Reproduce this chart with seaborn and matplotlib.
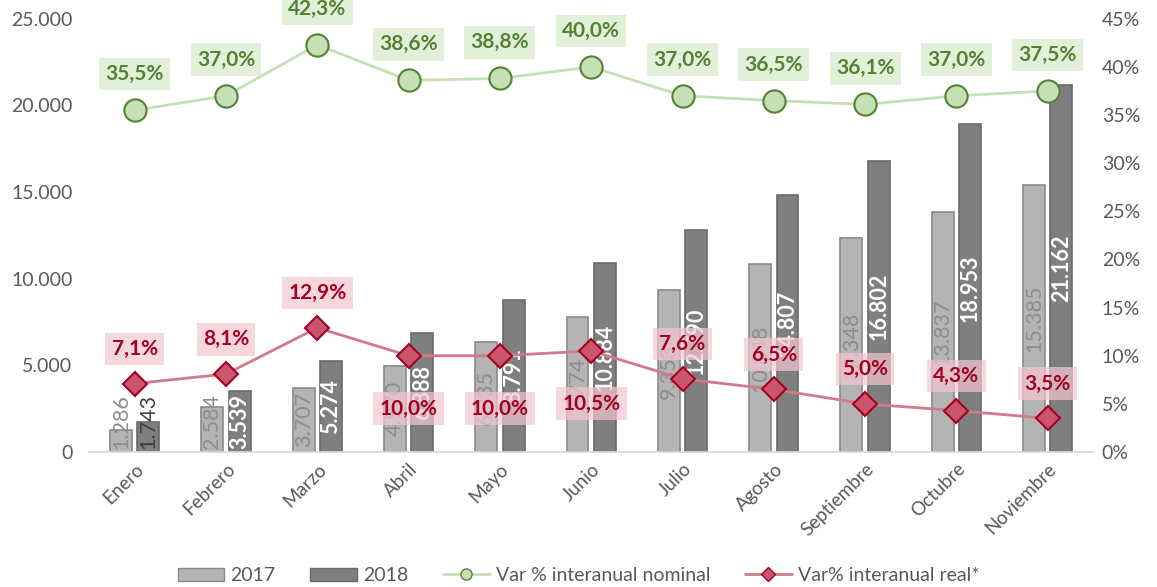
import numpy as np
import pandas as pd
import matplotlib
matplotlib.use("Agg")
import matplotlib.pyplot as plt
import seaborn as sns
from matplotlib.ticker import FuncFormatter
from matplotlib.patches import Patch
from matplotlib.lines import Line2D

months = ["Enero", "Febrero", "Marzo", "Abril", "Mayo", "Junio", "Julio",
          "Agosto", "Septiembre", "Octubre", "Noviembre"]
v2017 = [1286, 2584, 3707, 4970, 6335, 7774, 9353, 10848, 12348, 13837, 15385]
v2018 = [1743, 3539, 5274, 6888, 8791, 10884, 12790, 14807, 16802, 18953, 21162]
nominal = [35.5, 37.0, 42.3, 38.6, 38.8, 40.0, 37.0, 36.5, 36.1, 37.0, 37.5]
real = [7.1, 8.1, 12.9, 10.0, 10.0, 10.5, 7.6, 6.5, 5.0, 4.3, 3.5]
real_below = [False, False, False, True, True, True, False, False, False, False, False]

sns.set_theme(style="white")
plt.rcParams['font.family'] = ['Lato', 'DejaVu Sans']

df = pd.DataFrame({
    "mes": months * 2,
    "valor": v2017 + v2018,
    "anio": ["2017"] * len(months) + ["2018"] * len(months),
})

fig = plt.figure(figsize=(11.57, 5.87), dpi=100)
ax = fig.add_axes([0.077, 0.23, 0.868, 0.738])

c17, c18 = "#B4B4B4", "#7F7F7F"
sns.barplot(data=df, x="mes", y="valor", hue="anio", order=months,
            palette={"2017": c17, "2018": c18}, width=0.6, gap=0.2,
            ax=ax, legend=False, saturation=1)
for cont, ec in zip(ax.containers, ["#8A8A8A", "#6A6A6A"]):
    for p in cont:
        p.set_edgecolor(ec)
        p.set_linewidth(1.2)

# bar labels centered, rotated (kept above the baseline when the bar is short)
for k, (cont, vals) in enumerate(zip(ax.containers, [v2017, v2018])):
    for i, (p, v) in enumerate(zip(cont, vals)):
        x = p.get_x() + p.get_width() / 2
        lab = f"{v:,}".replace(",", ".")
        if k == 0:
            col, fw = "#8C8C8C", "normal"
        else:
            col, fw = ("#404040", "normal") if i == 0 else ("white", "bold")
        ax.text(x, max(v / 2, 1750), lab, rotation=90, ha="center", va="center",
                fontsize=15.5, color=col, fontweight=fw)

ax.set_ylim(0, 25000)
ax.set_xlim(-0.5, len(months) - 0.5)
ax.set_yticks(np.arange(0, 25001, 5000))
ax.yaxis.set_major_formatter(FuncFormatter(lambda v, p: f"{int(v):,}".replace(",", ".")))
ax.set_xlabel("")
ax.set_ylabel("")
ax.tick_params(axis="y", labelsize=14, colors="#595959", length=0, pad=12)
ax.tick_params(axis="x", labelsize=13.5, colors="#595959", length=0, pad=6)
plt.setp(ax.get_xticklabels(), rotation=45, ha="right", rotation_mode="anchor")
for s in ["top", "right", "left"]:
    ax.spines[s].set_visible(False)
ax.spines["bottom"].set_color("#D9D9D9")

ax2 = ax.twinx()
xs = np.arange(len(months))
sns.lineplot(x=xs, y=nominal, ax=ax2, color="#C5E0B4", linewidth=2,
             marker="o", markersize=16, markerfacecolor="#C5E0B4",
             markeredgecolor="#548235", markeredgewidth=1.5)
sns.lineplot(x=xs, y=real, ax=ax2, color="#D07A8A", linewidth=2,
             marker="D", markersize=12, markerfacecolor="#C9566E",
             markeredgecolor="#A50021", markeredgewidth=1.5)
ax2.set_ylim(0, 45)
ax2.set_yticks(np.arange(0, 46, 5))
ax2.yaxis.set_major_formatter(FuncFormatter(lambda v, p: f"{int(v)}%"))
ax2.tick_params(axis="y", labelsize=14, colors="#595959", length=0, pad=6)
for s in ["top", "right", "left", "bottom"]:
    ax2.spines[s].set_visible(False)
ax2.set_xlim(-0.5, len(months) - 0.5)

for x, v in zip(xs, nominal):
    ax2.annotate(f"{v:.1f}%".replace(".", ","), (x, v), xytext=(0, 26),
                 textcoords="offset points", ha="center", va="center",
                 fontsize=15, fontweight="bold", color="#548235",
                 bbox=dict(boxstyle="square,pad=0.3", fc="#E2F0D9", ec="none"),
                 annotation_clip=False)
for x, v, b in zip(xs, real, real_below):
    off = -38 if b else 25
    ax2.annotate(f"{v:.1f}%".replace(".", ","), (x, v), xytext=(0, off),
                 textcoords="offset points", ha="center", va="center",
                 fontsize=15, fontweight="bold", color="#A50021",
                 bbox=dict(boxstyle="square,pad=0.3", fc="#F4C7D0", ec="none", alpha=0.7))

handles = [
    Patch(facecolor=c17, edgecolor="#8A8A8A"),
    Patch(facecolor=c18, edgecolor="#6A6A6A"),
    Line2D([], [], color="#C5E0B4", lw=2, marker="o", markersize=8,
           markerfacecolor="#C5E0B4", markeredgecolor="#548235"),
    Line2D([], [], color="#D07A8A", lw=2, marker="D", markersize=7,
           markerfacecolor="#C9566E", markeredgecolor="#A50021"),
]
labels = ["2017", "2018", "Var % interanual nominal", "Var% interanual real*"]
fig.legend(handles, labels, loc="lower center", bbox_to_anchor=(0.5, -0.025),
           ncol=4, frameon=False, fontsize=14, labelcolor="#595959",
           handlelength=2.4, columnspacing=1.8, handletextpad=0.3)

fig.savefig("out.png", dpi=100)
